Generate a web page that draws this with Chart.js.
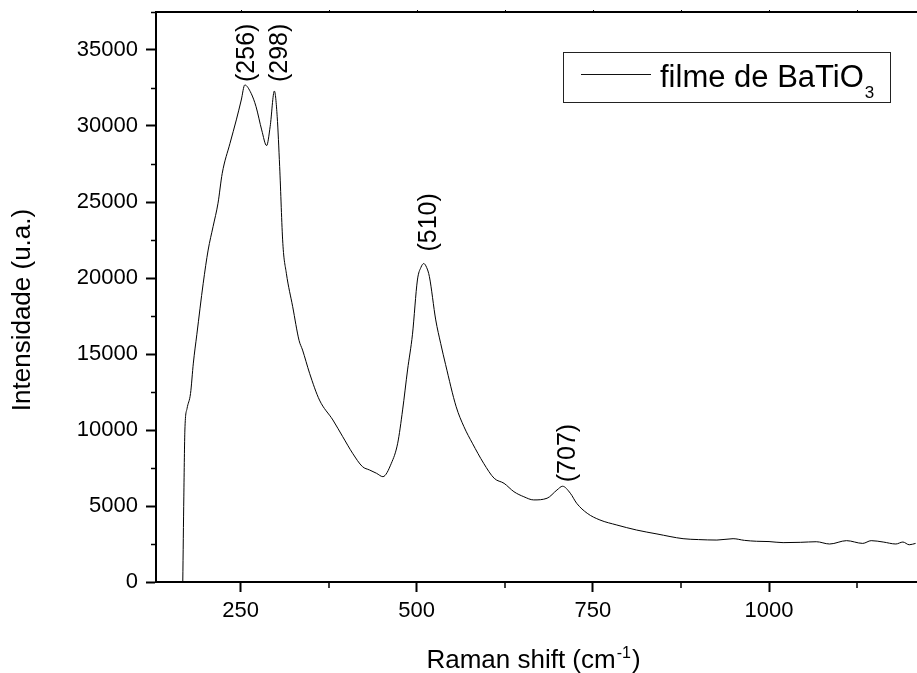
<!DOCTYPE html>
<html>
<head>
<meta charset="utf-8">
<title>Raman BaTiO3</title>
<script src="https://cdn.jsdelivr.net/npm/chart.js@4"></script>
<style>
  html, body { margin: 0; padding: 0; background: #fff; }
  #wrap { width: 917px; height: 673px; }
</style>
</head>
<body>
<div id="wrap"><canvas id="c" width="917" height="673"></canvas></div>
<script>
// Raman spectrum of a BaTiO3 film
const ramanShift = [
  168, 169.5, 171, 174, 179, 183, 188, 197, 204, 211, 218, 224, 235, 244, 251, 256,
  265, 272, 280, 287, 292, 298, 302, 305.5, 310, 315, 324, 333, 338, 348, 362, 381,
  395, 409, 423, 433, 443, 452, 464, 473, 480, 487, 494, 501, 506, 510, 514, 518,
  527, 534, 541, 556, 567, 579, 595, 610, 624, 638, 652, 666, 685, 699, 707, 718,
  727, 742, 760, 784, 812, 841, 878, 900, 926, 949, 965, 982, 1000, 1020, 1045, 1067,
  1086, 1110, 1133, 1145, 1162, 1180, 1190, 1199, 1208
];
const intensity = [
  0, 5600, 10000, 11400, 12400, 14400, 16300, 19650, 21840, 23380, 24920, 26890, 28860, 30400, 31710, 32700,
  32150, 31270, 29740, 28710, 29960, 32300, 30610, 27330, 22280, 20310, 18110, 15900, 15260, 13730, 11970, 10660,
  9560, 8470, 7590, 7370, 7150, 6930, 7810, 9130, 11320, 13950, 16300, 19870, 20700, 20950, 20700, 20090,
  17240, 15700, 14300, 11530, 10220, 9130, 7810, 6820, 6490, 5940, 5610, 5400, 5510, 6050, 6300, 5840,
  5180, 4520, 4080, 3750, 3420, 3160, 2850, 2790, 2760, 2850, 2740, 2680, 2660, 2590, 2610, 2650,
  2500, 2720, 2540, 2720, 2630, 2500, 2630, 2450, 2540
];

const xTickValues = [250, 500, 750, 1000];
const xMinorTicks = [375, 625, 875, 1125];
const yTickValues = [0, 5000, 10000, 15000, 20000, 25000, 30000, 35000];
const yMinorTicks = [2500, 7500, 12500, 17500, 22500, 27500, 32500, 37500];

const peakShifts = [256, 298, 510, 707];
const peakLabels = ['(256)', '(298)', '(510)', '(707)'];

const seriesName = 'filme de BaTiO';
const seriesSub = '3';
const xTitle = 'Raman shift (cm';
const xTitleSup = '-1';
const yTitle = 'Intensidade (u.a.)';

const FONT = '"Liberation Sans", Arial, Helvetica, sans-serif';

// Extra drawing: frame top, minor ticks, titles, peak labels and legend
const decorations = {
  id: 'decorations',
  afterDraw(chart, args, opts) {
    const ctx = chart.ctx;
    const a = chart.chartArea;
    const xs = chart.scales.x, ys = chart.scales.y;
    ctx.save();
    ctx.strokeStyle = '#000';
    ctx.fillStyle = '#000';

    // top frame line
    ctx.lineWidth = 2;
    ctx.beginPath();
    ctx.moveTo(a.left - 1, a.top);
    ctx.lineTo(a.right, a.top);
    ctx.stroke();

    // minor ticks
    ctx.lineWidth = 1.5;
    ctx.beginPath();
    xMinorTicks.forEach(v => {
      const px = Math.round(xs.getPixelForValue(v));
      ctx.moveTo(px, a.bottom);
      ctx.lineTo(px, a.bottom + 6);
    });
    yMinorTicks.forEach(v => {
      const py = Math.round(ys.getPixelForValue(v)) + 0.5;
      ctx.moveTo(a.left, py);
      ctx.lineTo(a.left - 5, py);
    });
    ctx.stroke();

    // small ticks on top frame
    ctx.lineWidth = 1;
    ctx.beginPath();
    xTickValues.concat(xMinorTicks).forEach(v => {
      const px = Math.round(xs.getPixelForValue(v)) + 0.5;
      ctx.moveTo(px, a.top);
      ctx.lineTo(px, a.top - 2);
    });
    ctx.stroke();

    // y axis title
    ctx.font = '26px ' + FONT;
    ctx.textAlign = 'center';
    ctx.textBaseline = 'middle';
    ctx.save();
    ctx.translate(23, (a.top + a.bottom) / 2 + 13);
    ctx.rotate(-Math.PI / 2);
    ctx.fillText(yTitle, 0, 0);
    ctx.restore();

    // x axis title with superscript
    ctx.textAlign = 'left';
    ctx.textBaseline = 'alphabetic';
    const mainFont = '26px ' + FONT, supFont = '16px ' + FONT;
    ctx.font = mainFont;
    const w1 = ctx.measureText(xTitle).width;
    const w3 = ctx.measureText(')').width;
    ctx.font = supFont;
    const w2 = ctx.measureText(xTitleSup).width;
    const total = w1 + w2 + w3 + 2;
    let tx = (a.left + a.right) / 2 - 3 - total / 2;
    const ty = a.bottom + 86;
    ctx.font = mainFont;
    ctx.fillText(xTitle, tx, ty);
    ctx.font = supFont;
    ctx.fillText(xTitleSup, tx + w1 + 1, ty - 10);
    ctx.font = mainFont;
    ctx.fillText(')', tx + w1 + w2 + 2, ty);

    // peak labels, rotated, above each peak
    ctx.font = '25px ' + FONT;
    ctx.textAlign = 'left';
    ctx.textBaseline = 'middle';
    opts.offsets.forEach((o, i) => {
      const idx = ramanShift.indexOf(peakShifts[i]);
      const px = xs.getPixelForValue(peakShifts[i]) + o[0];
      const py = ys.getPixelForValue(intensity[idx]) - o[1];
      ctx.save();
      ctx.translate(px, py);
      ctx.rotate(-Math.PI / 2);
      ctx.fillText(peakLabels[i], 0, 0);
      ctx.restore();
    });

    // legend box
    const bx = a.right - 354, by = a.top + 40, bw = 327, bh = 50;
    ctx.lineWidth = 1;
    ctx.strokeStyle = '#222';
    ctx.strokeRect(bx + 0.5, by + 0.5, bw, bh);
    ctx.strokeStyle = '#111';
    ctx.beginPath();
    ctx.moveTo(bx + 18, by + 22.5);
    ctx.lineTo(bx + 88, by + 22.5);
    ctx.stroke();
    ctx.textBaseline = 'alphabetic';
    ctx.font = '31px ' + FONT;
    ctx.fillText(seriesName, bx + 97, by + 35);
    const wn = ctx.measureText(seriesName).width;
    ctx.font = '17px ' + FONT;
    ctx.fillText(seriesSub, bx + 97 + wn + 1, by + 46);

    ctx.restore();
  }
};

new Chart(document.getElementById('c'), {
  type: 'scatter',
  data: {
    datasets: [{
      label: seriesName + seriesSub,
      data: ramanShift.map((x, i) => ({ x, y: intensity[i] })),
      showLine: true,
      borderColor: '#000',
      borderWidth: 1,
      pointRadius: 0,
      cubicInterpolationMode: 'monotone',
      fill: false
    }]
  },
  options: {
    responsive: false,
    animation: false,
    events: [],
    layout: { padding: { top: 12, right: 0, left: 0, bottom: 0 } },
    plugins: {
      legend: { display: false },
      tooltip: { enabled: false },
      decorations: { offsets: [[2, 3], [6, 9], [5, 12], [6, 4]] }
    },
    scales: {
      x: {
        type: 'linear',
        min: 130,
        max: 1210,
        afterBuildTicks: s => { s.ticks = xTickValues.map(v => ({ value: v })); },
        afterFit: s => { s.height = 91; s.paddingLeft = 0; s.paddingRight = 0; },
        grid: { drawOnChartArea: false, drawTicks: true, tickLength: 10, tickWidth: 2, tickColor: '#000' },
        border: { color: '#000', width: 2 },
        ticks: { color: '#000', font: { family: FONT, size: 22 }, padding: 6, maxRotation: 0, callback: v => String(v) }
      },
      y: {
        type: 'linear',
        min: 0,
        max: 37500,
        afterBuildTicks: s => { s.ticks = yTickValues.map(v => ({ value: v })); },
        afterFit: s => { s.width = 156; s.paddingTop = 0; s.paddingBottom = 0; },
        grid: { drawOnChartArea: false, drawTicks: true, tickLength: 10, tickWidth: 2, tickColor: '#000' },
        border: { color: '#000', width: 2 },
        ticks: { color: '#000', font: { family: FONT, size: 22 }, padding: 8, callback: v => String(v) }
      }
    }
  },
  plugins: [decorations]
});
</script>
</body>
</html>
